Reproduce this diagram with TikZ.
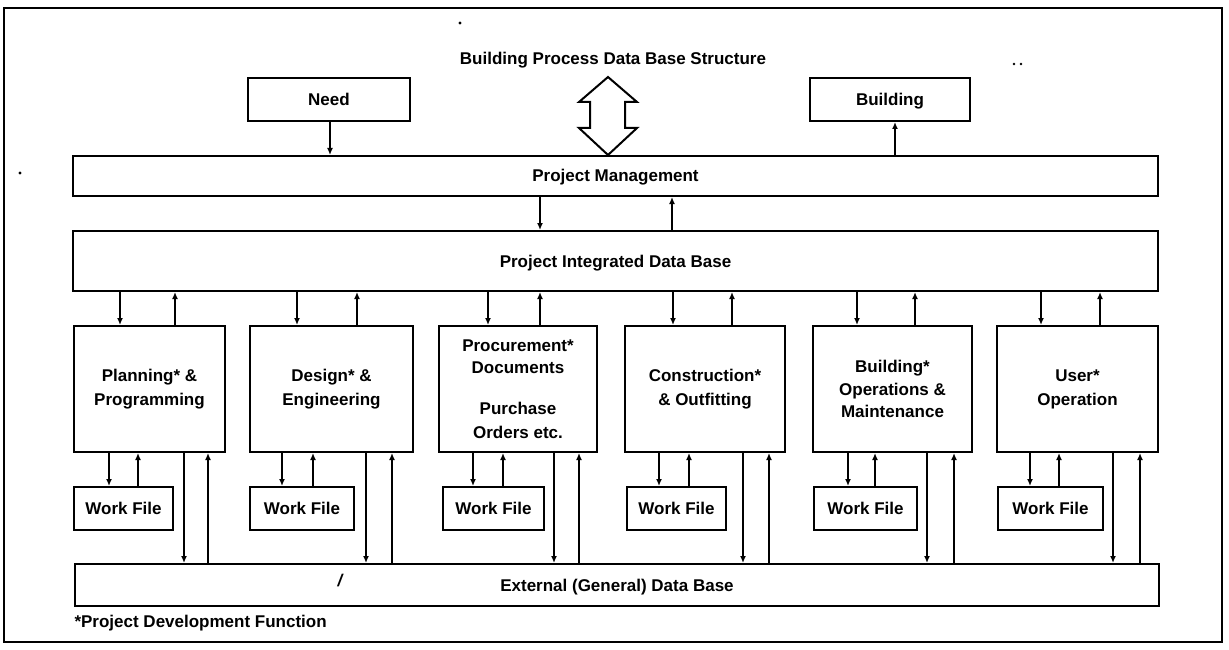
\documentclass[tikz,border=0pt]{standalone}
\usepackage{fontspec}
\setmainfont{Liberation Sans}
\usetikzlibrary{arrows.meta}
\begin{document}
\begin{tikzpicture}[x=1pt,y=-1pt,
  every node/.style={font=\bfseries\fontsize{17}{24}\selectfont},
  box/.style={draw,line width=2pt,inner sep=0pt,anchor=north west,align=center},
  onel/.style={text height=12pt,text depth=0pt},
  arr/.style={line width=2pt,-{Latex[length=7pt,width=6pt]}},
  frame/.style={draw,line width=2.4pt}]
\useasboundingbox (0,0) rectangle (1229,650);
\draw[frame] (4,8) rectangle (1222,642);
% title
\node (title) at (613,60) {Building Process Data Base Structure};
% top boxes
\node[box,onel,minimum width=162pt,minimum height=43pt] (need) at (247,77) {Need};
\node[box,onel,minimum width=160pt,minimum height=43pt] (bldg) at (809,77) {Building};
% big boxes
\node[box,onel,minimum width=1085pt,minimum height=40pt] (pm) at (72,155) {Project Management};
\node[box,onel,minimum width=1085pt,minimum height=60pt] (pidb) at (72,230) {Project Integrated Data Base};
\node[box,onel,minimum width=1084pt,minimum height=42pt] (ext) at (74,563) {External (General) Data Base};
% function boxes
\node[box,minimum width=151pt,minimum height=126pt] (f1) at (73,325) {Planning* \&\\Programming};
\node[box,minimum width=163pt,minimum height=126pt] (f2) at (249,325) {Design* \&\\Engineering};
\node[box,minimum width=158pt,minimum height=126pt] (f3) at (438,325) {Procurement*\\[-2pt]Documents\\[17pt]Purchase\\Orders etc.};
\node[box,minimum width=160pt,minimum height=126pt] (f4) at (624,325) {Construction*\\\& Outfitting};
\node[box,minimum width=159pt,minimum height=126pt] (f5) at (812,325) {Building*\\[-1pt]Operations \&\\[-2pt]Maintenance};
\node[box,minimum width=161pt,minimum height=126pt] (f6) at (996,325) {User*\\Operation};
% work files
\node[box,onel,minimum width=99pt,minimum height=43pt] (w1) at (73,486) {Work File};
\node[box,onel,minimum width=104pt,minimum height=43pt] (w2) at (249,486) {Work File};
\node[box,onel,minimum width=101pt,minimum height=43pt] (w3) at (442,486) {Work File};
\node[box,onel,minimum width=99pt,minimum height=43pt] (w4) at (626,486) {Work File};
\node[box,onel,minimum width=103pt,minimum height=43pt] (w5) at (813,486) {Work File};
\node[box,onel,minimum width=105pt,minimum height=43pt] (w6) at (997,486) {Work File};
% double arrow
\draw[line width=2pt,fill=white,line join=miter]
  (608,77) -- (637,102) -- (625,102) -- (625,128) -- (637,128) -- (608,155)
  -- (579,128) -- (590,128) -- (590,102) -- (579,102) -- cycle;
% connectors top
\draw[arr] (330,0 |- need.south) -- (330,0 |- pm.north);
\draw[arr] (895,0 |- pm.north) -- (895,0 |- bldg.south);
\draw[arr] (540,0 |- pm.south) -- (540,0 |- pidb.north);
\draw[arr] (672,0 |- pidb.north) -- (672,0 |- pm.south);
% PIDB <-> functions
\foreach \f/\d/\u in {f1/120/175, f2/297/357, f3/488/540, f4/673/732, f5/857/915, f6/1041/1100}{
  \draw[arr] (\d,0 |- pidb.south) -- (\d,0 |- \f.north);
  \draw[arr] (\u,0 |- \f.north) -- (\u,0 |- pidb.south);
}
% functions <-> work files
\foreach \f/\w/\d/\u in {f1/w1/109/138, f2/w2/282/313, f3/w3/473/503, f4/w4/659/689, f5/w5/848/875, f6/w6/1030/1059}{
  \draw[arr] (\d,0 |- \f.south) -- (\d,0 |- \w.north);
  \draw[arr] (\u,0 |- \w.north) -- (\u,0 |- \f.south);
}
% functions <-> external
\foreach \f/\d/\u in {f1/184/208, f2/366/392, f3/554/579, f4/743/769, f5/927/954, f6/1113/1140}{
  \draw[arr] (\d,0 |- \f.south) -- (\d,0 |- ext.north);
  \draw[arr] (\u,0 |- ext.north) -- (\u,0 |- \f.south);
}
% footnote and marks
\node[anchor=west] (foot) at (71,623) {*Project Development Function};
\node (mark) at (340,581) {\itshape /};
\fill (460,23) circle (1.6pt);
\fill (20,173) circle (1.6pt);
\fill (1014,64) circle (1.4pt);
\fill (1021,64) circle (1.4pt);
\end{tikzpicture}
\end{document}
